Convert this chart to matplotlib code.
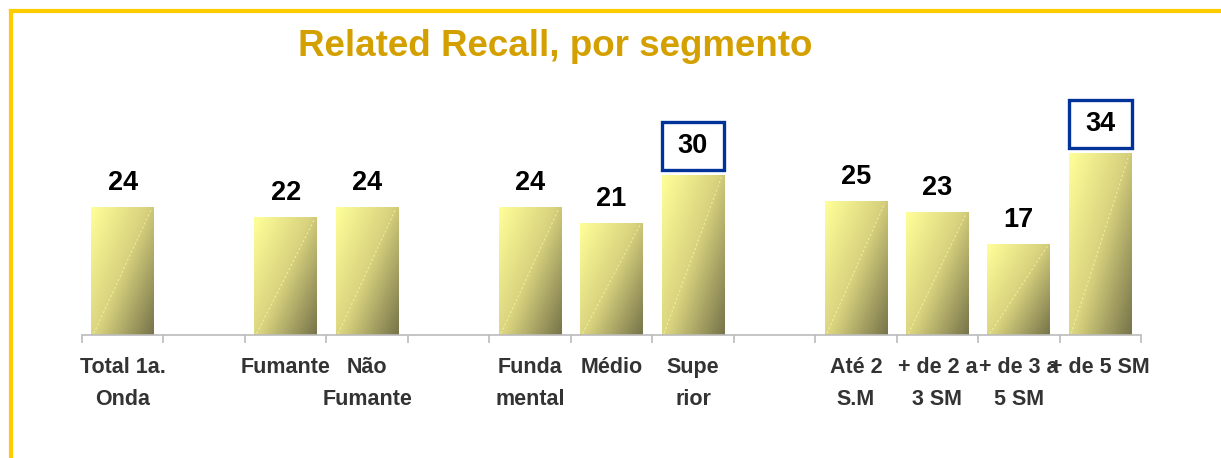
import numpy as np
import matplotlib
matplotlib.use("Agg")
import matplotlib.pyplot as plt
from matplotlib.colors import LinearSegmentedColormap
from matplotlib.patches import Rectangle

plt.rcParams['font.family'] = ['Liberation Sans', 'DejaVu Sans']

# ---- data ----
categories = ["Total 1a.\nOnda", "", "Fumante", "Não\nFumante", "",
              "Funda\nmental", "Médio", "Supe\nrior", "",
              "Até 2\nS.M", "+ de 2 a\n3 SM", "+ de 3 a\n5 SM", "+ de 5 SM"]
values = [24, np.nan, 22, 24, np.nan, 24, 21, 30, np.nan, 25, 23, 17, 34]
highlighted = ["Supe\nrior", "+ de 5 SM"]
title = "Related Recall, por segmento"

W, H = 1221, 458
fig = plt.figure(figsize=(W / 100, H / 100), dpi=100)
fig.patch.set_facecolor("white")

# gold frame (left and top visible)
fig.add_artist(plt.Line2D([11 / W, 11 / W], [0, 1 - 11 / H], transform=fig.transFigure,
                          color="#FFCC00", lw=3))
fig.add_artist(plt.Line2D([11 / W, 1], [1 - 11 / H, 1 - 11 / H], transform=fig.transFigure,
                          color="#FFCC00", lw=3))

ax = fig.add_axes([82 / W, (H - 335) / H, (1141 - 82) / W, 214 / H])
ax.set_xlim(-0.5, len(categories) - 0.5)
ax.set_ylim(0, 40)

cmap = LinearSegmentedColormap.from_list("g", ["#FFFF99", "#D8D27E", "#77744A"])
nx, ny = 60, 200
gx = np.linspace(0, 1, nx)[None, :]
gy = np.linspace(0, 1, ny)[:, None]  # 0 = top
grad = 0.55 * gx + 0.45 * gy

bw = 0.77
x = np.arange(len(categories))
bars = ax.bar(x, values, width=bw, color="none", edgecolor="none", zorder=2)
for xi, v, b in zip(x, values, bars):
    if np.isnan(v):
        continue
    im = ax.imshow(grad, cmap=cmap, vmin=0, vmax=1, aspect="auto",
                   extent=[xi - bw / 2, xi + bw / 2, 0, v], origin="upper",
                   interpolation="bilinear", zorder=2)
    im.set_clip_path(b)
    # faint diagonal highlight line
    ax.plot([xi - bw / 2 + 0.03, xi + bw / 2 - 0.03], [0.3, v - 0.3],
            color="#FFFFAA", lw=0.8, ls=(0, (2, 2)), alpha=0.6, zorder=3)

    lbl = categories[xi]
    if lbl in highlighted:
        ax.add_patch(Rectangle((xi - bw / 2, v + 0.9), bw, 9.0, fill=False,
                               edgecolor="#003399", lw=2.4, zorder=4, clip_on=False))
        ax.text(xi, v + 5.4, f"{v:.0f}", ha="center", va="center", fontsize=19.5,
                fontweight="bold", color="black", zorder=5, clip_on=False)
    else:
        ax.text(xi, v + 4.5, f"{v:.0f}", ha="center", va="center", fontsize=19.5,
                fontweight="bold", color="black", zorder=5)

ax.set_xticks(x)
ax.set_xticklabels(categories, fontsize=15.5, fontweight="bold", color="#333333",
                   linespacing=1.7, va="top")
ax.set_xticks(np.arange(-0.5, len(categories)), minor=True)
ax.tick_params(axis="x", which="major", length=0, pad=16)
ax.tick_params(axis="x", which="minor", length=6, color="#BBBBBB", width=1.2)
ax.set_yticks([])
for s in ["top", "right", "left"]:
    ax.spines[s].set_visible(False)
ax.spines["bottom"].set_color("#BBBBBB")
ax.spines["bottom"].set_linewidth(1.2)

fig.text(555 / W, 1 - 47 / H, title, ha="center", va="center", fontsize=26.5,
         fontweight="bold", color="#D4A000")

fig.savefig("out.png", dpi=100, facecolor="white")
